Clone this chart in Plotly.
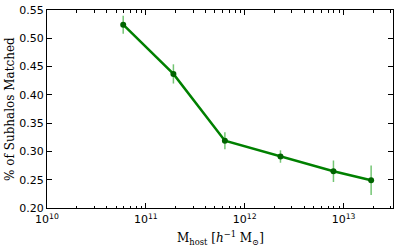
import plotly.graph_objects as go

mass = [5.9e10, 1.9e11, 6.3e11, 2.3e12, 7.9e12, 1.9e13]
frac = [0.524, 0.437, 0.319, 0.291, 0.265, 0.249]
err = [0.016, 0.017, 0.015, 0.011, 0.019, 0.026]
xtick_vals = [1e10, 1e11, 1e12, 1e13]
xtick_text = ["10<sup>10</sup>", "10<sup>11</sup>", "10<sup>12</sup>", "10<sup>13</sup>"]
ytick_vals = [0.20, 0.25, 0.30, 0.35, 0.40, 0.45, 0.50, 0.55]
xminor_vals = [m * 10 ** e for e in (10, 11, 12, 13) for m in range(2, 10) if m * 10 ** e < 10 ** 13.5]

fig = go.Figure()
fig.add_trace(go.Scatter(
    x=mass, y=frac, mode="lines+markers",
    line=dict(color="#008000", width=2.5),
    marker=dict(color="#006400", size=6),
    error_y=dict(type="data", array=err, visible=True, color="rgba(0,150,0,0.55)",
                 thickness=1.5, width=0),
    showlegend=False,
))

axis_common = dict(showline=True, linecolor="black", linewidth=1, mirror="allticks",
                   ticks="inside", tickcolor="black", showgrid=False, zeroline=False,
                   automargin=False,
                   tickfont=dict(family="DejaVu Sans", size=11, color="black"))

fig.update_xaxes(type="log", range=[10, 13.5], tickvals=xtick_vals, ticktext=xtick_text,
                 ticklen=5, ticklabelstandoff=1,
                 minor=dict(ticks="inside", ticklen=2.5, tickcolor="black", showgrid=False,
                            tickvals=xminor_vals),
                 **axis_common)
fig.update_yaxes(range=[0.20, 0.55], tickvals=ytick_vals, tickformat=".2f", ticklen=5,
                 **axis_common)

fig.add_annotation(text="M<sub>host</sub> [<i>h</i><sup>−1</sup> M<sub>⊙</sub>]",
                   xref="paper", yref="paper", x=0.5, y=-0.15, yanchor="middle",
                   showarrow=False, font=dict(family="DejaVu Serif", size=12, color="black"))
fig.add_annotation(text="% of Subhalos Matched", textangle=-90,
                   xref="paper", yref="paper", x=-0.107, y=0.5, xanchor="center",
                   showarrow=False, font=dict(family="DejaVu Serif", size=12, color="black"))

fig.update_layout(width=399, height=250, margin=dict(l=47, r=6, t=10, b=42),
                  plot_bgcolor="white", paper_bgcolor="white")
fig.write_html("out.html", config={"displayModeBar": False},
               post_script="document.body.style.margin='0';document.body.style.padding='0';")
